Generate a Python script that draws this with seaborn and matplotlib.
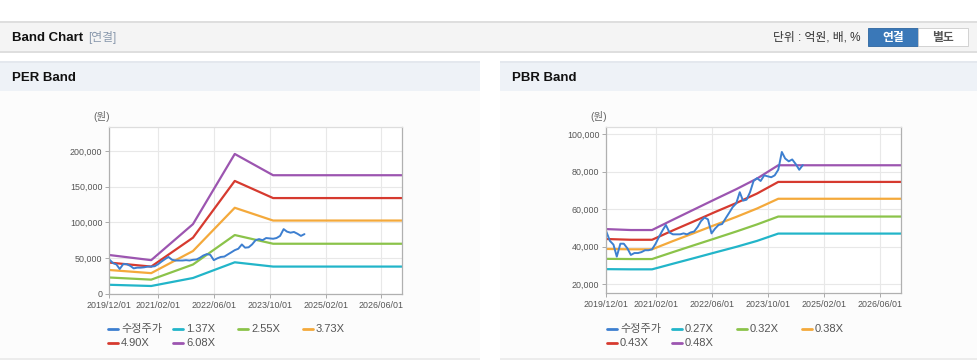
import pandas as pd
import matplotlib
matplotlib.use("Agg")
import matplotlib.pyplot as plt
import matplotlib.dates as mdates
from matplotlib.patches import Rectangle
from matplotlib.lines import Line2D
from matplotlib.ticker import FuncFormatter
import seaborn as sns

# adjusted share price, monthly from 2019/12 (same series on both panels)
price_start = "2019-12-01"
price = [48000, 43000, 41000, 34600, 41500, 41500, 39000, 35500, 36500, 36500,
         37000, 38000, 38000, 38500, 41500, 45000, 48500, 51500, 47500, 46500,
         46500, 46500, 47000, 46500, 47500, 48000, 50500, 53500, 55500, 54500,
         47000, 49500, 51500, 52000, 55000, 58000, 61000, 63000, 69000, 64500,
         65000, 69000, 75000, 76500, 75000, 78000, 77500, 77000, 78000, 81000,
         90500, 87000, 85500, 86500, 84000, 81000, 83500]

# PER band knots
per_dates = ["2019-12-01", "2020-12-01", "2021-12-01", "2022-12-01", "2023-11-01", "2026-12-01"]
per_labels = ["1.37X", "2.55X", "3.73X", "4.90X", "6.08X"]
per_137 = [12500, 10800, 22000, 44000, 38000, 38000]
per_255 = [22700, 19700, 40900, 82200, 70000, 70000]
per_373 = [33200, 28800, 59800, 120400, 102500, 102500]
per_490 = [43600, 38000, 78500, 158000, 134000, 134000]
per_608 = [54200, 47000, 97500, 195800, 166000, 166000]

# PBR band knots
pbr_dates = ["2019-12-01", "2020-07-01", "2021-01-01", "2021-07-01", "2022-01-01",
             "2022-07-01", "2023-01-01", "2023-07-01", "2024-01-01", "2026-12-01"]
pbr_labels = ["0.27X", "0.32X", "0.38X", "0.43X", "0.48X"]
pbr_027 = [27900, 27800, 27800, 30800, 33800, 36800, 39800, 43000, 46900, 46900]
pbr_032 = [33400, 33300, 33300, 37000, 40700, 44300, 48000, 51800, 56000, 56000]
pbr_038 = [38700, 38500, 38500, 42900, 47200, 51500, 55800, 60300, 65500, 65500]
pbr_043 = [44000, 43600, 43600, 48600, 53500, 58400, 63200, 68300, 74500, 74500]
pbr_048 = [49300, 48800, 48800, 54300, 59800, 65200, 70600, 76300, 83400, 83400]

x_ticks = ["2019-12-01", "2021-02-01", "2022-06-01", "2023-10-01", "2025-02-01", "2026-06-01"]
x_range = ["2019-12-01", "2026-12-01"]

price_color = "#3d7fd0"
band_colors = ["#22b5c9", "#8bc34a", "#f4a93b", "#d63a2f", "#9c55b0"]

sns.set_theme(style="white")
plt.rcParams["font.family"] = ["Liberation Sans", "Noto Sans CJK KR", "DejaVu Sans"]

W, H = 978, 362
fig = plt.figure(figsize=(W / 100, H / 100), dpi=100)


def fx(px):
    return px / W


def fy(py):
    return 1 - py / H


def box(x0, y0, x1, y1, fc, ec="none", lw=0, z=-5):
    fig.add_artist(Rectangle((fx(x0), fy(y1)), (x1 - x0) / W, (y1 - y0) / H,
                             transform=fig.transFigure, facecolor=fc,
                             edgecolor=ec, linewidth=lw, zorder=z))


# page chrome
box(0, 21, W, 53, "#dedede")
box(0, 23, W, 51, "#f4f4f4")
fig.text(fx(12), fy(38), "Band Chart", fontsize=9.5, fontweight="bold", color="#111", va="center")
fig.text(fx(88), fy(38), "[연결]", fontsize=8.5, color="#8a99ad", va="center")
fig.text(fx(861), fy(38), "단위 : 억원, 배, %", fontsize=8.5, color="#333", va="center", ha="right")
box(868, 28, 918, 46, "#3a78b8", ec="#2d65a0", lw=0.6, z=-4)
box(918, 28, 968, 46, "#ffffff", ec="#cccccc", lw=0.6, z=-4)
fig.text(fx(893), fy(38), "연결", fontsize=8.5, fontweight="bold", color="white", va="center", ha="center")
fig.text(fx(943), fy(38), "별도", fontsize=8.5, fontweight="bold", color="#555", va="center", ha="center")

for x0, x1, title in [(0, 480, "PER Band"), (500, W, "PBR Band")]:
    box(x0, 61, x1, 91, "#e4e8ee")
    box(x0, 63, x1, 91, "#eef2f7")
    box(x0, 91, x1, 358, "#fcfcfc")
    box(x0, 358, x1, 360, "#ececec")
    fig.text(fx(x0 + 12), fy(78), title, fontsize=9.5, fontweight="bold", color="#111", va="center")


def draw_panel(rect, band_dates, bands, labels, ylim, yticks, unit_x, legend_x):
    ax = fig.add_axes([fx(rect[0]), fy(rect[3]), (rect[2] - rect[0]) / W, (rect[3] - rect[1]) / H])
    ax.set_facecolor("white")
    handles = []
    bd = pd.to_datetime(band_dates)
    for vals, color in zip(bands, band_colors):
        sns.lineplot(x=bd, y=vals, ax=ax, color=color, linewidth=1.6)
        handles.append(ax.lines[-1])
    pdates = pd.date_range(price_start, periods=len(price), freq="MS")
    sns.lineplot(x=pdates, y=price, ax=ax, color=price_color, linewidth=1.4)
    handles.insert(0, ax.lines[-1])

    ax.set_xlim(pd.to_datetime(x_range[0]), pd.to_datetime(x_range[1]))
    ax.set_ylim(*ylim)
    ax.set_xticks(pd.to_datetime(x_ticks))
    ax.xaxis.set_major_formatter(mdates.DateFormatter("%Y/%m/%d"))
    ax.set_yticks(yticks)
    ax.yaxis.set_major_formatter(FuncFormatter(lambda v, p: f"{int(v):,}"))
    ax.set_xlabel("")
    ax.set_ylabel("")
    ax.grid(True, color="#e8e8e8", linewidth=0.8)
    ax.set_axisbelow(True)
    ax.tick_params(axis="both", which="major", labelsize=6.4, labelcolor="#555",
                   length=3, width=0.7, color="#aaaaaa", pad=2, bottom=True, left=True)
    for side, c in [("left", "#b0b0b0"), ("bottom", "#b0b0b0"), ("right", "#b0b0b0"), ("top", "#dddddd")]:
        ax.spines[side].set_color(c)
        ax.spines[side].set_linewidth(0.9)

    fig.text(fx(unit_x), fy(116), "(원)", fontsize=7.5, color="#666", va="center")

    names = ["수정주가"] + labels
    for i, (h, name) in enumerate(zip(handles, names)):
        x = legend_x + (i % 4) * 65
        y = 329 + (i // 4) * 14
        fig.add_artist(Line2D([fx(x), fx(x + 10)], [fy(y), fy(y)], transform=fig.transFigure,
                              color=h.get_color(), linewidth=2))
        fig.text(fx(x + 13), fy(y), name, fontsize=8, color="#555", va="center")
    return ax


draw_panel((109.3, 126.7, 402, 293.7), per_dates,
           [per_137, per_255, per_373, per_490, per_608], per_labels,
           (0, 234000), [0, 50000, 100000, 150000, 200000], 93, 108)
draw_panel((606.3, 126.7, 901, 293.3), pbr_dates,
           [pbr_027, pbr_032, pbr_038, pbr_043, pbr_048], pbr_labels,
           (15000, 104000), [20000, 40000, 60000, 80000, 100000], 590, 607)

fig.savefig("out.png", dpi=100)
